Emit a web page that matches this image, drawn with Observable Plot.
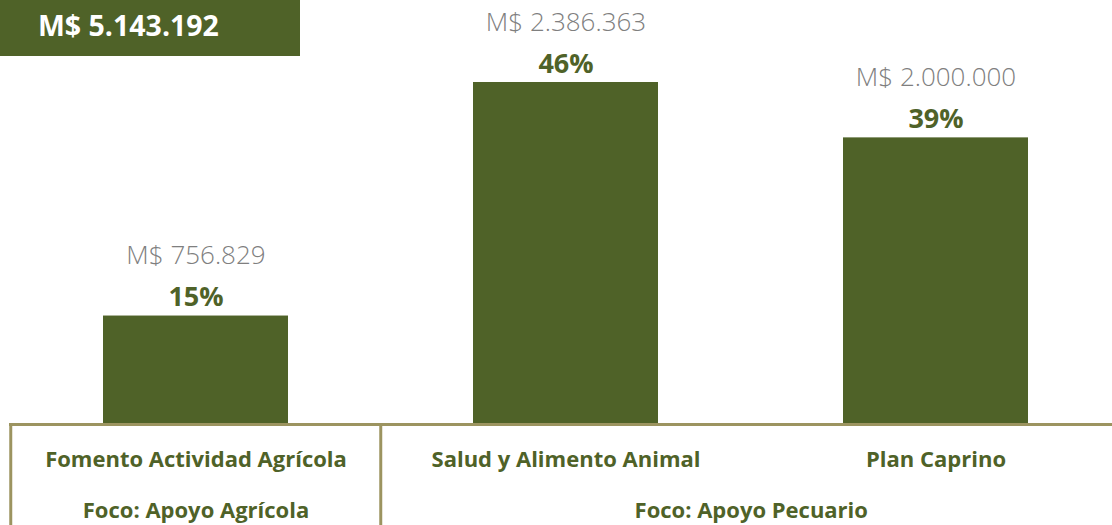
<!DOCTYPE html>
<html>
<head>
<meta charset="utf-8">
<script src="https://cdn.jsdelivr.net/npm/d3@7"></script>
<script src="https://cdn.jsdelivr.net/npm/@observablehq/plot@0.6"></script>
<style>
  html, body { margin: 0; padding: 0; background: #fff; }
  #wrap { position: relative; width: 1112px; height: 525px; overflow: hidden; }
  #total {
    position: absolute; left: 0; top: 0; width: 300px; height: 56px;
    background: #4F6228; color: #fff; font-family: "Open Sans", sans-serif;
    font-weight: 700; font-size: 28.5px; line-height: 50px; box-sizing: border-box;
    padding-left: 38px;
  }
  svg { display: block; }
</style>
</head>
<body>
<div id="wrap">
  <div id="total"></div>
</div>
<script>
const categories = ["Fomento Actividad Agrícola", "Salud y Alimento Animal", "Plan Caprino"];
const amounts = [756829, 2386363, 2000000];
const percents = [15, 46, 39];
const focusGroups = ["Foco: Apoyo Agrícola", "Foco: Apoyo Pecuario", "Foco: Apoyo Pecuario"];
const totalAmount = 5143192;

const green = "#4F6228";
const lineColor = "#9C9460";
const fmt = v => "M$ " + d3.format(",")(v).replace(/,/g, ".");

document.getElementById("total").textContent = fmt(totalAmount);

const data = categories.map((c, i) => ({category: c, amount: amounts[i], pct: percents[i], focus: focusGroups[i]}));

// one label per focus group, anchored at the first category of the group
const groups = d3.groups(data, d => d.focus).map(([focus, rows]) => ({focus, first: rows[0].category, n: rows.length}));

const step = 370.5;
const chart = Plot.plot({
  width: 1112,
  height: 525,
  marginTop: 82,
  marginBottom: 101,
  marginLeft: 9,
  marginRight: 0,
  style: {fontFamily: "Open Sans, sans-serif", background: "transparent", overflow: "hidden"},
  x: {domain: categories, range: [0, 1130.3], paddingInner: 0.5, paddingOuter: 0.2753, label: null},
  y: {domain: [0, d3.max(amounts)], axis: null},
  marks: [
    Plot.barY(data, {x: "category", y: "amount", fill: green}),
    Plot.text(data, {x: "category", y: "amount", text: d => fmt(d.amount), dy: -52, lineAnchor: "bottom",
      fill: "#7F7F7F", fontSize: 26, fontWeight: 300}),
    Plot.text(data, {x: "category", y: "amount", text: d => d.pct + "%", dy: -10, lineAnchor: "bottom",
      fill: green, fontSize: 27, fontWeight: 700}),
    Plot.ruleY([0], {stroke: lineColor, strokeWidth: 3}),
    // vertical frame lines at group boundaries
    Plot.ruleX(groups, {x: "first", dx: -step / 2, y1: 0, y2: -0.35 * d3.max(amounts), stroke: lineColor, strokeWidth: 3, clip: false}),
    Plot.axisX({tickSize: 0, tickPadding: 27, fontSize: 22, fontWeight: 700, fill: green, label: null}),
    // group labels centred under their categories
    ...groups.map(g => Plot.text([g], {x: "first", dx: (g.n - 1) * step / 2, text: "focus", frameAnchor: "bottom",
      lineAnchor: "bottom", dy: 93, fill: green, fontSize: 22, fontWeight: 700}))
  ]
});

document.getElementById("wrap").appendChild(chart);
</script>
</body>
</html>
